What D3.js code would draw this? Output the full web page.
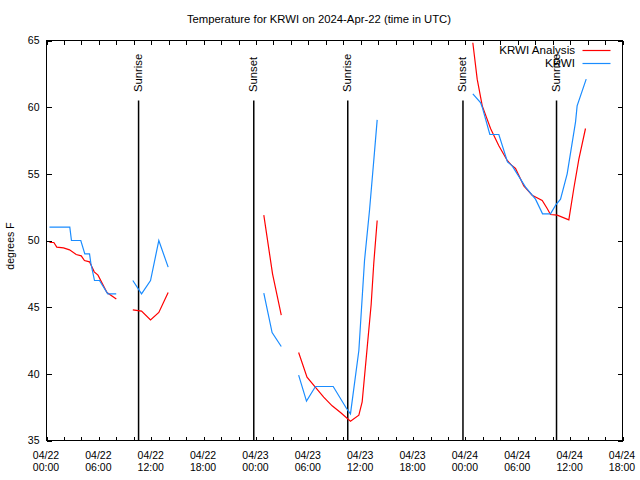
<!DOCTYPE html>
<html><head><meta charset="utf-8">
<script src="https://cdn.jsdelivr.net/npm/d3@7"></script>
<style>
html,body{margin:0;padding:0;background:#fff;}
text{font-family:"Liberation Sans",Arial,sans-serif;fill:#000;}
</style></head>
<body><div id="chart"></div>
<script>
const title = "Temperature for KRWI on 2024-Apr-22 (time in UTC)";
const yLabel = "degrees F";
const seriesNames = ["KRWI Analysis", "KRWI"];
const seriesColors = ["#ff0000", "#1a8cff"];

// hours since 2024-04-22 00:00 UTC; null = gap
const anaHours = [0.34,0.84,1.18,1.95,2.64,3.40,3.98,4.35,4.93,5.47,5.90,6.93,8.0, null,
  9.89,10.89,11.92,12.87,13.94, null,
  24.9,25.9,26.9, null,
  28.89,29.85,30.8,31.76,32.73,33.69,34.83,35.79,36.17,36.75,37.2,37.5,37.89, null,
  48.85,49.35,49.93,50.88,51.83,52.79,53.36,53.74,54.69,55.65,56.8,57.37,57.75,58.52,59.85,60.42,61.0,61.76];
const anaTemp = [49.85,49.85,49.5,49.45,49.3,48.95,48.85,48.5,48.4,47.65,47.4,46.1,45.62, null,
  44.8,44.7,44.05,44.6,46.1, null,
  51.9,47.5,44.4, null,
  41.6,39.75,39.0,38.25,37.6,37.1,36.45,36.9,37.9,42.0,45.2,48.3,51.5, null,
  64.83,62.1,60.1,58.4,57.1,56.0,55.6,55.4,54.1,53.4,53.0,52.4,51.95,51.9,51.55,53.9,56.1,58.4];

const obsHours = [0.34,2.67,2.86,3.93,4.39,4.93,5.08,5.50,6.07,7.02,7.99, null,
  9.89,10.89,11.92,12.87,13.94, null,
  24.9,25.85,26.9, null,
  28.89,29.79,30.82,32.85,34.38,34.83,35.79,36.44,37.01,37.50,37.89, null,
  48.85,49.73,49.93,50.8,51.83,52.82,53.36,54.89,56.03,56.84,57.75,58.38,58.9,59.66,60.62,60.8,61.84];
const obsTemp = [51,51,50,50,49,49,48.3,47,47,46,46, null,
  47,46,47,50,48, null,
  46.05,43.1,42.05, null,
  39.9,37.95,39.05,39.05,37.4,37.0,41.75,48.5,52.25,56.0,59.05, null,
  61.0,60.35,60.0,57.95,57.95,55.9,55.6,54.0,53.1,52.0,52.0,52.7,53.1,55.0,58.9,60.1,62.1];

const sunHours = [10.55, 23.75, 34.52, 47.72, 58.44];
const sunLabels = ["Sunrise", "Sunset", "Sunrise", "Sunset", "Sunrise"];

const xTickHours = [0,6,12,18,24,30,36,42,48,54,60,66];
const xTickDates = ["04/22","04/22","04/22","04/22","04/23","04/23","04/23","04/23","04/24","04/24","04/24","04/24"];
const xTickTimes = ["00:00","06:00","12:00","18:00","00:00","06:00","12:00","18:00","00:00","06:00","12:00","18:00"];
const yTicks = [35,40,45,50,55,60,65];

(function () {
const W = 640, H = 480;
const L = 46, R = 622, T = 40, B = 440;

const svg = d3.select("#chart").append("svg").attr("width", W).attr("height", H);
const g = svg.append("g").attr("transform", "translate(0.5,0.5)");

const x = d3.scaleLinear().domain([0, 66]).range([L, R]);
const y = d3.scaleLinear().domain([35, 65]).range([B, T]);

svg.append("defs").append("clipPath").attr("id", "clip")
  .append("rect").attr("x", L).attr("y", T).attr("width", R - L).attr("height", B - T);

const axB = g.append("g").attr("transform", `translate(0,${B})`)
  .call(d3.axisBottom(x).tickValues(d3.range(0, 67, 2)).tickSize(-4).tickFormat(""));
const axT = g.append("g").attr("transform", `translate(0,${T})`)
  .call(d3.axisTop(x).tickValues(d3.range(0, 67, 2)).tickSize(-4).tickFormat(""));
const axL = g.append("g").attr("transform", `translate(${L},0)`)
  .call(d3.axisLeft(y).tickValues(yTicks).tickSize(-5).tickPadding(7).tickFormat(d3.format("d")));
const axR = g.append("g").attr("transform", `translate(${R},0)`)
  .call(d3.axisRight(y).tickValues(yTicks).tickSize(-5).tickFormat(""));
[axB, axT, axL, axR].forEach(a => {
  a.select(".domain").remove();
  a.selectAll("line").attr("stroke", "#000").attr("shape-rendering", "crispEdges");
});
axL.selectAll("text").attr("font-size", "10.5px").attr("font-family", "Liberation Sans, Arial, sans-serif");

g.append("rect").attr("x", L).attr("y", T).attr("width", R - L).attr("height", B - T)
  .attr("fill", "none").attr("stroke", "#000").attr("shape-rendering", "crispEdges");

const xl = svg.append("g");
xTickHours.forEach((h, i) => {
  const t = xl.append("text").attr("text-anchor", "middle").attr("font-size", "10.5px");
  t.append("tspan").attr("x", x(h)).attr("y", 459).text(xTickDates[i]);
  t.append("tspan").attr("x", x(h)).attr("y", 471).text(xTickTimes[i]);
});

svg.append("text").attr("x", 319).attr("y", 23).attr("text-anchor", "middle")
  .attr("font-size", "11.3px").text(title);
svg.append("text").attr("transform", "translate(14,246) rotate(-90)")
  .attr("text-anchor", "middle").attr("font-size", "10.5px").text(yLabel);

const yFrac = f => B - f * (B - T);
sunHours.forEach((h, i) => {
  g.append("line").attr("x1", x(h)).attr("x2", x(h)).attr("y1", yFrac(0.85)).attr("y2", B)
    .attr("stroke", "#000").attr("stroke-width", 1.5);
  svg.append("text").attr("transform", `translate(${x(h) + 4},${yFrac(0.87)}) rotate(-90)`)
    .attr("font-size", "11.3px").attr("text-anchor", "start").text(sunLabels[i]);
});

function pts(hs, ts) { return hs.map((h, i) => ({h: h, t: ts[i]})); }
const line = d3.line().defined(d => d.h != null && d.t != null).x(d => x(d.h)).y(d => y(d.t));
const dataG = g.append("g").attr("clip-path", "url(#clip)");
dataG.append("path").datum(pts(anaHours, anaTemp)).attr("d", line)
  .attr("fill", "none").attr("stroke", seriesColors[0]).attr("stroke-width", 1.2);
dataG.append("path").datum(pts(obsHours, obsTemp)).attr("d", line)
  .attr("fill", "none").attr("stroke", seriesColors[1]).attr("stroke-width", 1.2);

seriesNames.forEach((n, i) => {
  const ly = 50 + i * 12.5;
  svg.append("text").attr("x", 575).attr("y", ly + 4).attr("text-anchor", "end")
    .attr("font-size", "11.6px").text(n);
  g.append("line").attr("x1", 582).attr("x2", 610).attr("y1", Math.round(ly)).attr("y2", Math.round(ly))
    .attr("stroke", seriesColors[i]).attr("stroke-width", 1.2);
});
})();
</script></body></html>
